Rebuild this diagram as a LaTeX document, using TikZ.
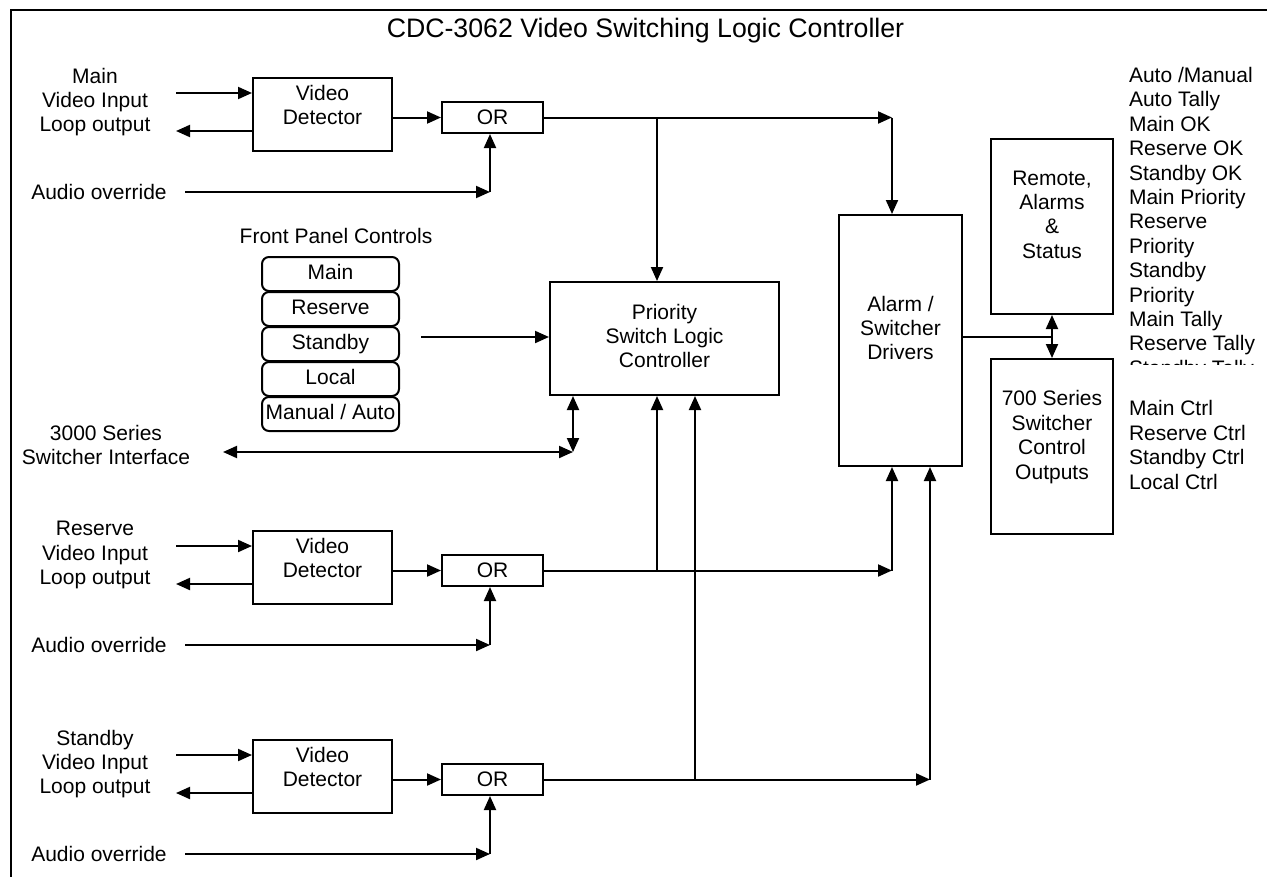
\documentclass[tikz,border=0pt]{standalone}
\usepackage{fontspec}
\setmainfont{Liberation Sans}
\usetikzlibrary{arrows.meta}
\newcommand\dgbody{\fontsize{21pt}{24.4pt}\selectfont}
\newcommand\dgtitle{\fontsize{26.7pt}{30pt}\selectfont}
\begin{document}
\begin{tikzpicture}[x=1pt,y=-1pt,line width=2pt,
  >={Triangle[length=14pt,width=12pt]},
  every node/.style={font=\dgbody, inner sep=0pt},
  blk/.style={draw, line width=2pt, rectangle},
  txt/.style={align=center},
  btn/.style={draw, rounded corners=7pt, minimum width=137pt, minimum height=34pt, text height=15pt, text depth=4pt},
]
\useasboundingbox (0,0) rectangle (1267,876);
% frame (cropped on right and bottom)
\draw (1270,10) -- (11,10) -- (11,880);
\node[font=\dgtitle] (title) at (645.5,31) {CDC-3062 Video Switching Logic Controller};

% input rows
\foreach \d/\n/\lab in {0/M/Main, 453/R/Reserve, 662/S/Standby}{
  \node[txt] (lab\n) at (95,102+\d) {\lab\\Video Input\\Loop output};
  \node[blk, minimum width=139pt, minimum height=73pt] (vd\n) at (322.5,114.5+\d) {};
  \node[txt] (vdt\n) at (322.5,105+\d) {Video\\Detector};
  \node[blk, minimum width=101pt, minimum height=31pt] (or\n) at (492.5,117.5+\d) {OR};
  \node (au\n) at (99,192+\d) {Audio override};
  \coordinate (in\n) at (176,93+\d);
  \coordinate (out\n) at (176,131+\d);
  \coordinate (al\n) at (185,192+\d);
  \coordinate (ac\n) at (490,192+\d);
  \draw[->] (in\n) -- (in\n -| vd\n.west);
  \draw[->] (out\n -| vd\n.west) -- (out\n);
  \draw[->] (vd\n.east |- or\n.west) -- (or\n.west);
  \draw[->] (al\n) -- (ac\n);
  \draw[->] (ac\n) -- (ac\n |- or\n.south);
}

% main blocks
\node[blk, minimum width=229pt, minimum height=113pt] (prio) at (664.5,338.5) {};
\node[txt] (priot) at (664.5,336) {Priority\\Switch Logic\\Controller};
\node[blk, minimum width=123pt, minimum height=251pt] (alarm) at (900.5,340.5) {};
\node[txt] (alarmt) at (900.5,328) {Alarm /\\Switcher\\Drivers};
\node[blk, minimum width=122pt, minimum height=175pt] (remote) at (1052,226.5) {};
\node[txt] (remotet) at (1052,214.5) {Remote,\\Alarms\\\&\\Status};
\node[blk, minimum width=122pt, minimum height=175pt] (ctl) at (1052,446.5) {};
\node[txt] (ctlt) at (1052,437) {700 Series\\Switcher\\Control\\Outputs};

% front panel
\node (fpc) at (336,236) {Front Panel Controls};
\foreach \y/\n/\t in {274/b1/Main, 309/b2/Reserve, 344/b3/Standby, 379/b4/Local, 414/b5/{Manual / Auto}}
  \node[btn] (\n) at (330.5,\y) {\t};
\coordinate (fpa) at (421,337);
\draw[->] (fpa) -- (fpa -| prio.west);

% 3000 series interface
\node[txt] (sif) at (106,445) {3000 Series\\Switcher Interface};
\coordinate (ifl) at (223,452);
\coordinate (ifj) at (573,452);
\draw[<->] (ifl) -- (ifj);
\draw[<->] (ifj) -- (ifj |- prio.south);

% main row outputs
\coordinate (mA) at (892,117.5);
\coordinate (mB) at (657,117.5);
\draw[->] (orM.east) -- (mA);
\draw[->] (mA) -- (mA |- alarm.north);
\draw[->] (mB) -- (mB |- prio.north);
% reserve row outputs
\coordinate (rA) at (892,570.5);
\coordinate (rB) at (657,570.5);
\draw[->] (orR.east) -- (rA);
\draw[->] (rA) -- (rA |- alarm.south);
\draw[->] (rB) -- (rB |- prio.south);
% standby row outputs
\coordinate (sA) at (930,779.5);
\coordinate (sB) at (695,779.5);
\draw[->] (orS.east) -- (sA);
\draw[->] (sA) -- (sA |- alarm.south);
\draw[->] (sB) -- (sB |- prio.south);

% alarm to remote / 700 series
\coordinate (aj) at (1052,337);
\draw (aj -| alarm.east) -- (aj);
\draw[<->] (remote.south) -- (ctl.north);

% status list (clipped at bottom)
\begin{scope}
\clip (1120,50) rectangle (1267,364.5);
\foreach \t [count=\k from 0] in {{Auto /Manual}, Auto Tally, Main OK, Reserve OK, Standby OK, Main Priority, Reserve, Priority, Standby, Priority, Main Tally, Reserve Tally, Standby Tally}
  \node[anchor=base west] (st\k) at (1128,82.5+24.4*\k) {\t};
\end{scope}
% control outputs list
\foreach \t [count=\k from 0] in {Main Ctrl, Reserve Ctrl, Standby Ctrl, Local Ctrl}
  \node[anchor=base west] (ct\k) at (1128,415.5+24.5*\k) {\t};
\end{tikzpicture}
\end{document}
